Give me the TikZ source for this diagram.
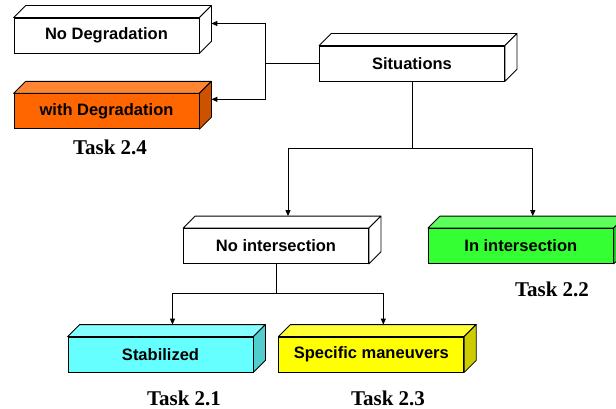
\documentclass[tikz,border=0pt]{standalone}
\usepackage{fontspec}
\setmainfont{Liberation Serif}
\setsansfont{Liberation Sans}
\usetikzlibrary{positioning, calc, arrows.meta}
\definecolor{deg_front}{HTML}{FF6600}
\definecolor{deg_top}{HTML}{FF8533}
\definecolor{deg_side}{HTML}{CC5200}
\definecolor{in_front}{HTML}{33FF33}
\definecolor{in_top}{HTML}{5CFF5C}
\definecolor{in_side}{HTML}{29CC29}
\definecolor{stab_front}{HTML}{66FFFF}
\definecolor{stab_top}{HTML}{85FFFF}
\definecolor{stab_side}{HTML}{52CCCC}
\definecolor{man_front}{HTML}{FFFF00}
\definecolor{man_top}{HTML}{FFFF33}
\definecolor{man_side}{HTML}{CCCC00}
\tikzset{
  box_font/.style = {font=\sffamily\bfseries\fontsize{16.5}{19}\selectfont},
  task_font/.style = {font=\bfseries\fontsize{21}{24}\selectfont},
  back_shift/.style = {shift={(12,-12)}}
}
\tikzset{
  block/.style = {box_font, draw, line width=0.8pt, minimum width=185pt, minimum height=35pt, inner sep=0pt, align=center},
  task/.style = {task_font, inner sep=0pt},
  link/.style = {line width=0.9pt},
  arrow/.style = {link, -{Triangle[length=6pt,width=5pt]}},
  faces/.style 2 args = {append after command={\pgfextra{
      \filldraw[line width=0.8pt, line join=round, fill=#1] (\tikzlastnode.north west) -- ([back_shift]\tikzlastnode.north west)
        -- ([back_shift]\tikzlastnode.north east) -- (\tikzlastnode.north east) -- cycle;
      \filldraw[line width=0.8pt, line join=round, fill=#2] (\tikzlastnode.north east) -- ([back_shift]\tikzlastnode.north east)
        -- ([back_shift]\tikzlastnode.south east) -- (\tikzlastnode.south east) -- cycle;
  }}}
}
\begin{document}
\begin{tikzpicture}[x=1pt, y=-1pt]
    \useasboundingbox (0,0) rectangle (616,409);

    % Boxes
    \node[block, fill=white, faces={white}{white}] at (106.5,35.5) (no_deg) {No Degradation};
    \node[block, fill=deg_front, faces={deg_top}{deg_side}, below=40pt of no_deg] (with_deg) {with Degradation};
    \node[block, fill=white, faces={white}{white}] at (412,63.5) (situations) {Situations};
    \node[block, fill=white, faces={white}{white}] at (276,246) (no_inter) {No intersection};
    \node[block, fill=in_front, faces={in_top}{in_side}, right=59pt of no_inter] (in_inter) {In intersection};
    \node[block, fill=stab_front, faces={stab_top}{stab_side}] at (160.5,354.5) (stabilized) {Stabilized};
    \node[block, fill=man_front, faces={man_top}{man_side}, right=25pt of stabilized] (maneuvers) {Specific maneuvers};

    % Tasks
    \node[task] at (110,147) (task_24) {Task 2.4};
    \node[task] at (552,289) (task_22) {Task 2.2};
    \node[task] at (184,398) (task_21) {Task 2.1};
    \node[task] at (388,398) (task_23) {Task 2.3};

    % Connectors
    \coordinate (fork_sit) at ($(situations.west)+(-54,0)$);
    \draw[link] (situations.west) -- (fork_sit);
    \draw[arrow] (fork_sit) |- ([back_shift]no_deg.east);
    \draw[arrow] (fork_sit) |- ([back_shift]with_deg.east);

    \coordinate (fork_mid) at ($(situations.south)+(0,67)$);
    \draw[link] (situations.south) -- (fork_mid);
    \draw[arrow] (fork_mid) -| ([back_shift]no_inter.north);
    \draw[arrow] (fork_mid) -| ([back_shift]in_inter.north);

    \coordinate (fork_low) at ($(no_inter.south)+(0,30)$);
    \draw[link] (no_inter.south) -- (fork_low);
    \draw[arrow] (fork_low) -| ([back_shift]stabilized.north);
    \draw[arrow] (fork_low) -| ([back_shift]maneuvers.north);
\end{tikzpicture}
\end{document}
